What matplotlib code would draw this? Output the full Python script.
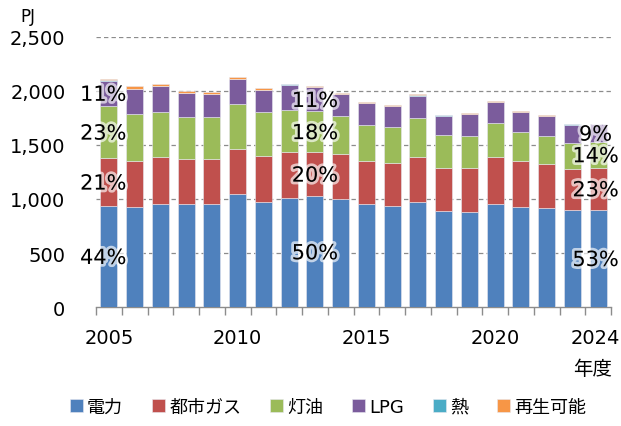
import matplotlib
matplotlib.use("Agg")
import matplotlib.pyplot as plt
import matplotlib.patheffects as pe
import numpy as np

plt.rcParams['font.family'] = ['DejaVu Sans', 'Noto Sans CJK JP']

years = list(range(2005, 2025))
electricity = [938, 923, 957, 951, 954, 1043, 972, 1006, 1025, 997, 957, 932, 969, 893, 883, 957, 929, 920, 895, 901]
city_gas = [440, 432, 432, 422, 419, 423, 426, 426, 413, 420, 398, 404, 423, 397, 407, 435, 426, 404, 386, 389]
kerosene = [486, 432, 419, 386, 386, 417, 408, 395, 374, 349, 330, 333, 361, 302, 296, 309, 265, 262, 240, 242]
lpg = [232, 232, 235, 219, 213, 225, 203, 231, 222, 206, 201, 189, 204, 179, 198, 197, 182, 180, 167, 159]
heat = [3, 3, 3, 3, 3, 3, 3, 3, 3, 3, 3, 3, 3, 3, 3, 3, 3, 3, 3, 2]
renewable = [13, 21, 16, 19, 19, 19, 13, 7, 9, 9, 9, 12, 9, 6, 9, 6, 7, 6, 3, 2]

series_names = ['電力', '都市ガス', '灯油', 'LPG', '熱', '再生可能']
series = [electricity, city_gas, kerosene, lpg, heat, renewable]
colors = ['#4F81BD', '#C0504D', '#9BBB59', '#7B5C9C', '#4BACC6', '#F79646']

label_years = [2005, 2013, 2024]
tick_years = [2005, 2010, 2015, 2020, 2024]

fig = plt.figure(figsize=(6.21, 4.27), dpi=100)
ax = fig.add_axes([96/621, 1-308/427, 515/621, 270/427])

x = np.arange(len(years))
bottom = np.zeros(len(years))
handles = []
for name, vals, c in zip(series_names, series, colors):
    v = np.array(vals, dtype=float)
    h = ax.bar(x, v, 0.66, bottom=bottom, color=c, edgecolor='#e8e8f0', linewidth=0.4, label=name, zorder=3)
    handles.append(h)
    bottom += v
totals = bottom

ax.set_xlim(-0.5, len(years)-0.5)
ax.set_ylim(0, 2500)
ax.set_yticks(np.arange(0, 2501, 500))
ax.set_yticklabels([f"{v:,}" for v in range(0, 2501, 500)], fontsize=14)
for yv in range(500, 2501, 500):
    ax.axhline(yv, color='#8c8c8c', lw=0.9, ls=(0, (3.5, 2.5)), zorder=1)

# last label nudged slightly left so it stays inside the figure, as in the reference
tick_pos = [years.index(y) for y in tick_years]
tick_pos[-1] -= 0.1
ax.set_xticks(tick_pos)
ax.set_xticklabels([str(y) for y in tick_years], fontsize=14)
ax.set_xticks(np.arange(-0.5, len(years), 1), minor=True)
ax.tick_params(axis='x', which='major', length=0, pad=15)
ax.tick_params(axis='x', which='minor', length=6, color='#8c8c8c', width=1)
ax.tick_params(axis='y', length=0, pad=22)
for s in ['top', 'right', 'left']:
    ax.spines[s].set_visible(False)
ax.spines['bottom'].set_color('#8c8c8c')
ax.spines['bottom'].set_linewidth(1)

# percentage labels
label_dx = {2005: -0.22, 2013: 0.0, 2024: -0.1}
effects = [pe.withStroke(linewidth=4, foreground='white', alpha=0.65)]
for yr in label_years:
    i = years.index(yr)
    base = 0.0
    for k in range(4):
        v = series[k][i]
        pct = round(v / totals[i] * 100)
        ax.text(i + label_dx[yr], base + v/2 - 15, f"{pct}%", ha='center', va='center', fontsize=15,
                color='black', path_effects=effects, zorder=5)
        base += v

fig.text(28/621, 1-17/427, 'PJ', ha='center', va='center', fontsize=12)
fig.text(593/621, 1-370/427, '年度', ha='center', va='center', fontsize=14)

fig.legend(handles, series_names, loc='center', bbox_to_anchor=(328/621, 1-408/427), ncol=6,
           frameon=False, fontsize=13, handlelength=0.7, handleheight=0.7,
           handletextpad=0.25, columnspacing=1.6)

fig.savefig('out.png', dpi=100)
